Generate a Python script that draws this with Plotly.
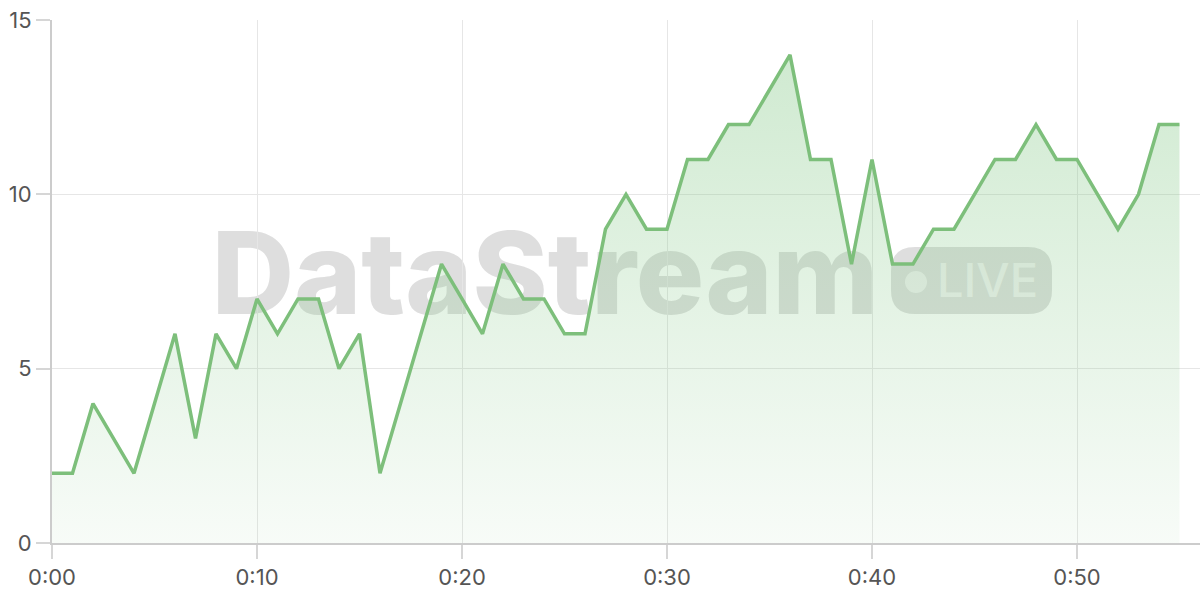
import plotly.graph_objects as go

minutes = list(range(56))
values = [2, 2, 4, 3, 2, 4, 6, 3, 6, 5,
          7, 6, 7, 7, 5, 6, 2, 4, 6, 8,
          7, 6, 8, 7, 7, 6, 6, 9, 10, 9,
          9, 11, 11, 12, 12, 13, 14, 11, 11, 8,
          11, 8, 8, 9, 9, 10, 11, 11, 12, 11,
          11, 10, 9, 10, 12, 12]
tick_vals = [0, 10, 20, 30, 40, 50]
tick_text = ["0:00", "0:10", "0:20", "0:30", "0:40", "0:50"]
y_ticks = [0, 5, 10, 15]

W, H = 1200, 600
ML, MR, MT, MB = 52, 0, 20, 57
PW, PH = W - ML - MR, H - MT - MB


def px(x):
    return (x - ML) / PW


def py(y):
    return 1 - (y - MT) / PH


fig = go.Figure()
fig.add_trace(go.Scatter(
    x=minutes, y=values, mode="lines",
    line=dict(color="#7dbf7b", width=3.5),
    fill="tozeroy",
    fillgradient=dict(type="vertical", start=0, stop=15,
                      colorscale=[[0, "rgba(129,199,132,0.06)"],
                                  [1, "rgba(129,199,132,0.40)"]]),
    hoverinfo="skip", showlegend=False,
))

shapes = []
# watermark text
shapes.append(dict(type="rect", xref="paper", yref="paper",
                   x0=px(205), x1=px(885), y0=py(318), y1=py(218),
                   line=dict(width=0), fillcolor="rgba(0,0,0,0)", layer="between",
                   label=dict(text="DataStream", textposition="middle center",
                              font=dict(family="Inter", size=114, color="rgba(200,200,200,0.60)", weight=800))))
# pill with rounded corners
x0, x1, y0, y1, r = 891, 1052, 247, 314, 24
path = (f"M {px(x0 + r)},{py(y0)} L {px(x1 - r)},{py(y0)} "
        f"Q {px(x1)},{py(y0)} {px(x1)},{py(y0 + r)} L {px(x1)},{py(y1 - r)} "
        f"Q {px(x1)},{py(y1)} {px(x1 - r)},{py(y1)} L {px(x0 + r)},{py(y1)} "
        f"Q {px(x0)},{py(y1)} {px(x0)},{py(y1 - r)} L {px(x0)},{py(y0 + r)} "
        f"Q {px(x0)},{py(y0)} {px(x0 + r)},{py(y0)} Z")
shapes.append(dict(type="path", xref="paper", yref="paper", path=path,
                   line=dict(width=0), fillcolor="rgba(200,200,200,0.60)", layer="between"))
# dot
shapes.append(dict(type="circle", xref="paper", yref="paper",
                   x0=px(905), x1=px(927), y0=py(293), y1=py(271),
                   line=dict(width=0), fillcolor="rgba(255,255,255,0.55)", layer="between"))
shapes.append(dict(type="rect", xref="paper", yref="paper",
                   x0=px(935), x1=px(1040), y0=py(299), y1=py(257),
                   line=dict(width=0), fillcolor="rgba(0,0,0,0)", layer="between",
                   label=dict(text="LIVE", textposition="middle center",
                              font=dict(family="Inter", size=47, color="rgba(255,255,255,0.6)", weight=500))))

axis_common = dict(showgrid=True, gridcolor="#e6e6e6", gridwidth=1,
                   ticks="outside", ticklen=14, tickcolor="#d6d6d6", tickwidth=1.5,
                   showline=True, linecolor="#cccccc", linewidth=2,
                   zeroline=False, automargin=False,
                   tickfont=dict(family="Inter", size=22, color="#555555"))

fig.update_layout(
    width=W, height=H,
    margin=dict(l=ML, r=MR, t=MT, b=MB),
    paper_bgcolor="white", plot_bgcolor="white",
    shapes=shapes,
    xaxis=dict(range=[0, 56], tickvals=tick_vals, ticktext=tick_text, **axis_common),
    yaxis=dict(range=[0, 15], tickvals=y_ticks, **axis_common),
)

fig.write_html("out.html", config={"displayModeBar": False},
               post_script="document.body.style.margin='0';document.body.style.overflow='hidden';")
